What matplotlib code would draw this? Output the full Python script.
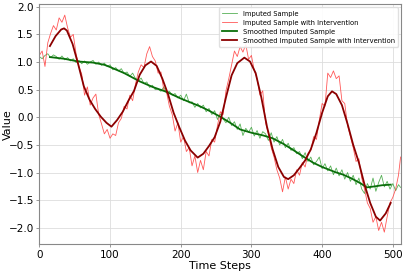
import numpy as np
import matplotlib.pyplot as plt

# raw samples (every 4 steps)
t_raw = list(range(0, 512, 4)) + [511]
imputed = [
    1.10, 1.06, 1.12, 1.15, 1.08, 1.13, 1.10, 1.05, 1.11, 1.04,
    1.08, 1.02, 1.06, 0.99, 1.03, 0.97, 1.02, 0.96, 1.00, 1.03,
    0.96, 1.00, 0.94, 0.98, 0.92, 0.95, 0.86, 0.90, 0.84, 0.88,
    0.79, 0.82, 0.74, 0.80, 0.70, 0.66, 0.71, 0.61, 0.64, 0.54,
    0.58, 0.50, 0.51, 0.47, 0.55, 0.44, 0.47, 0.40, 0.43, 0.35,
    0.40, 0.30, 0.42, 0.26, 0.28, 0.18, 0.25, 0.17, 0.22, 0.10,
    0.16, 0.05, 0.12, -0.04, 0.06, -0.03, -0.10, 0.00, -0.15, -0.08,
    -0.22, -0.12, -0.33, -0.20, -0.27, -0.18, -0.34, -0.24, -0.38, -0.26,
    -0.30, -0.42, -0.28, -0.45, -0.35, -0.50, -0.40, -0.55, -0.47, -0.60,
    -0.55, -0.66, -0.62, -0.75, -0.64, -0.80, -0.72, -0.86, -0.80, -0.72,
    -0.93, -0.84, -0.97, -0.88, -1.04, -0.92, -1.06, -0.95, -1.12, -1.00,
    -1.16, -1.05, -1.22, -1.10, -1.30, -1.38, -1.20, -1.30, -1.10, -1.34,
    -1.18, -1.05, -1.26, -1.16, -1.30, -1.20, -1.33, -1.22, -1.27,
]
intervention = [
    1.12, 1.20, 0.92, 1.35, 1.52, 1.66, 1.58, 1.80, 1.72, 1.85,
    1.62, 1.45, 1.50, 1.15, 0.92, 0.78, 0.40, 0.55, 0.22, 0.35,
    0.42, 0.05, -0.12, -0.30, -0.22, -0.38, -0.30, -0.33, -0.10, -0.02,
    0.20, 0.15, 0.40, 0.30, 0.60, 0.82, 0.95, 0.90, 1.15, 1.28,
    1.10, 1.02, 0.80, 0.82, 0.50, 0.45, 0.20, 0.05, -0.25, -0.10,
    -0.45, -0.35, -0.62, -0.55, -0.88, -0.70, -1.00, -0.78, -0.95, -0.62,
    -0.70, -0.40, -0.45, -0.15, 0.10, 0.05, 0.48, 0.70, 0.95, 1.20,
    1.10, 1.28, 1.18, 1.32, 1.05, 1.12, 0.85, 0.70, 0.40, 0.48,
    -0.10, -0.30, -0.55, -0.72, -0.95, -1.10, -1.35, -1.08, -1.30, -1.12,
    -1.20, -0.95, -1.05, -0.82, -0.90, -0.65, -0.60, -0.35, -0.40, -0.05,
    0.25, 0.20, 0.80, 0.72, 0.84, 0.70, 0.75, 0.30, 0.25, -0.15,
    -0.35, -0.55, -0.80, -0.75, -1.10, -1.30, -1.55, -1.65, -1.90, -1.80,
    -2.05, -1.90, -2.08, -1.80, -1.55, -1.45, -1.30, -1.05, -0.72,
]

# smoothed curves
t_smooth_g = [15, 35, 55, 76, 92, 100, 120, 142, 160, 180, 200, 227, 240, 256,
              270, 284, 300, 317, 330, 345, 360, 372, 387, 400, 418, 430, 442,
              455, 463, 475, 485, 497]
smooth_imputed = [1.09, 1.06, 1.01, 0.99, 0.95, 0.91, 0.80, 0.65, 0.55, 0.46,
                  0.34, 0.20, 0.12, 0.01, -0.10, -0.22, -0.28, -0.33, -0.38,
                  -0.48, -0.60, -0.70, -0.82, -0.90, -0.99, -1.04, -1.11,
                  -1.20, -1.27, -1.25, -1.23, -1.22]

t_smooth_r = [15, 23, 31, 35, 39, 47, 55, 63, 71, 79, 87, 95, 102, 110, 118,
              126, 134, 142, 150, 158, 166, 174, 182, 190, 198, 206, 214, 224,
              232, 240, 248, 256, 264, 272, 280, 290, 298, 306, 314, 322, 330,
              338, 346, 352, 360, 368, 376, 384, 392, 400, 408, 414, 420, 428,
              436, 444, 452, 460, 468, 476, 482, 490, 497]
smooth_intervention = [1.29, 1.47, 1.59, 1.61, 1.57, 1.33, 0.96, 0.56, 0.32,
                       0.15, 0.01, -0.10, -0.17, -0.05, 0.10, 0.30, 0.48, 0.77,
                       0.94, 1.01, 0.93, 0.70, 0.42, 0.08, -0.18, -0.42, -0.60,
                       -0.73, -0.66, -0.52, -0.36, -0.08, 0.36, 0.76, 0.98,
                       1.08, 1.01, 0.80, 0.36, -0.17, -0.58, -0.90, -1.08,
                       -1.12, -1.05, -0.92, -0.78, -0.58, -0.28, 0.08, 0.38,
                       0.47, 0.42, 0.22, -0.12, -0.50, -0.82, -1.22, -1.55,
                       -1.80, -1.87, -1.74, -1.55]

fig = plt.figure(figsize=(4.07, 2.71), dpi=100)
ax = fig.add_axes([0.0966, 0.0985, 0.8894, 0.8865])

ax.plot(t_raw, imputed, color='#3aa33a', lw=0.6, alpha=0.85, label='Imputed Sample')
ax.plot(t_raw, intervention, color='#ff3b3b', lw=0.6, alpha=0.85,
        label='Imputed Sample with Intervention')
ax.plot(t_smooth_g, smooth_imputed, color='#0a6e0a', lw=1.3, label='Smoothed Imputed Sample')
ax.plot(t_smooth_r, smooth_intervention, color='#8b0000', lw=1.3,
        label='Smoothed Imputed Sample with Intervention')

ax.set_xlim(0, 512)
ax.set_ylim(-2.30, 2.05)
ax.set_xticks([0, 100, 200, 300, 400, 500])
ax.set_yticks(np.arange(-2.0, 2.01, 0.5))
ax.grid(True, color='#dddddd', lw=0.6)
ax.set_axisbelow(True)
for s in ax.spines.values():
    s.set_color('#888888')
    s.set_linewidth(0.8)
ax.tick_params(labelsize=7.5, length=2, width=0.6, color='#888888', pad=2)
ax.set_xlabel('Time Steps', fontsize=8, labelpad=1)
ax.set_ylabel('Value', fontsize=8)
ax.yaxis.set_label_coords(-0.073, 0.5)

leg = ax.legend(loc='upper right', fontsize=4.9, framealpha=0.9, borderpad=0.45,
                labelspacing=0.45, handlelength=2.3, edgecolor='#dddddd')

fig.savefig('out.png', dpi=100)
